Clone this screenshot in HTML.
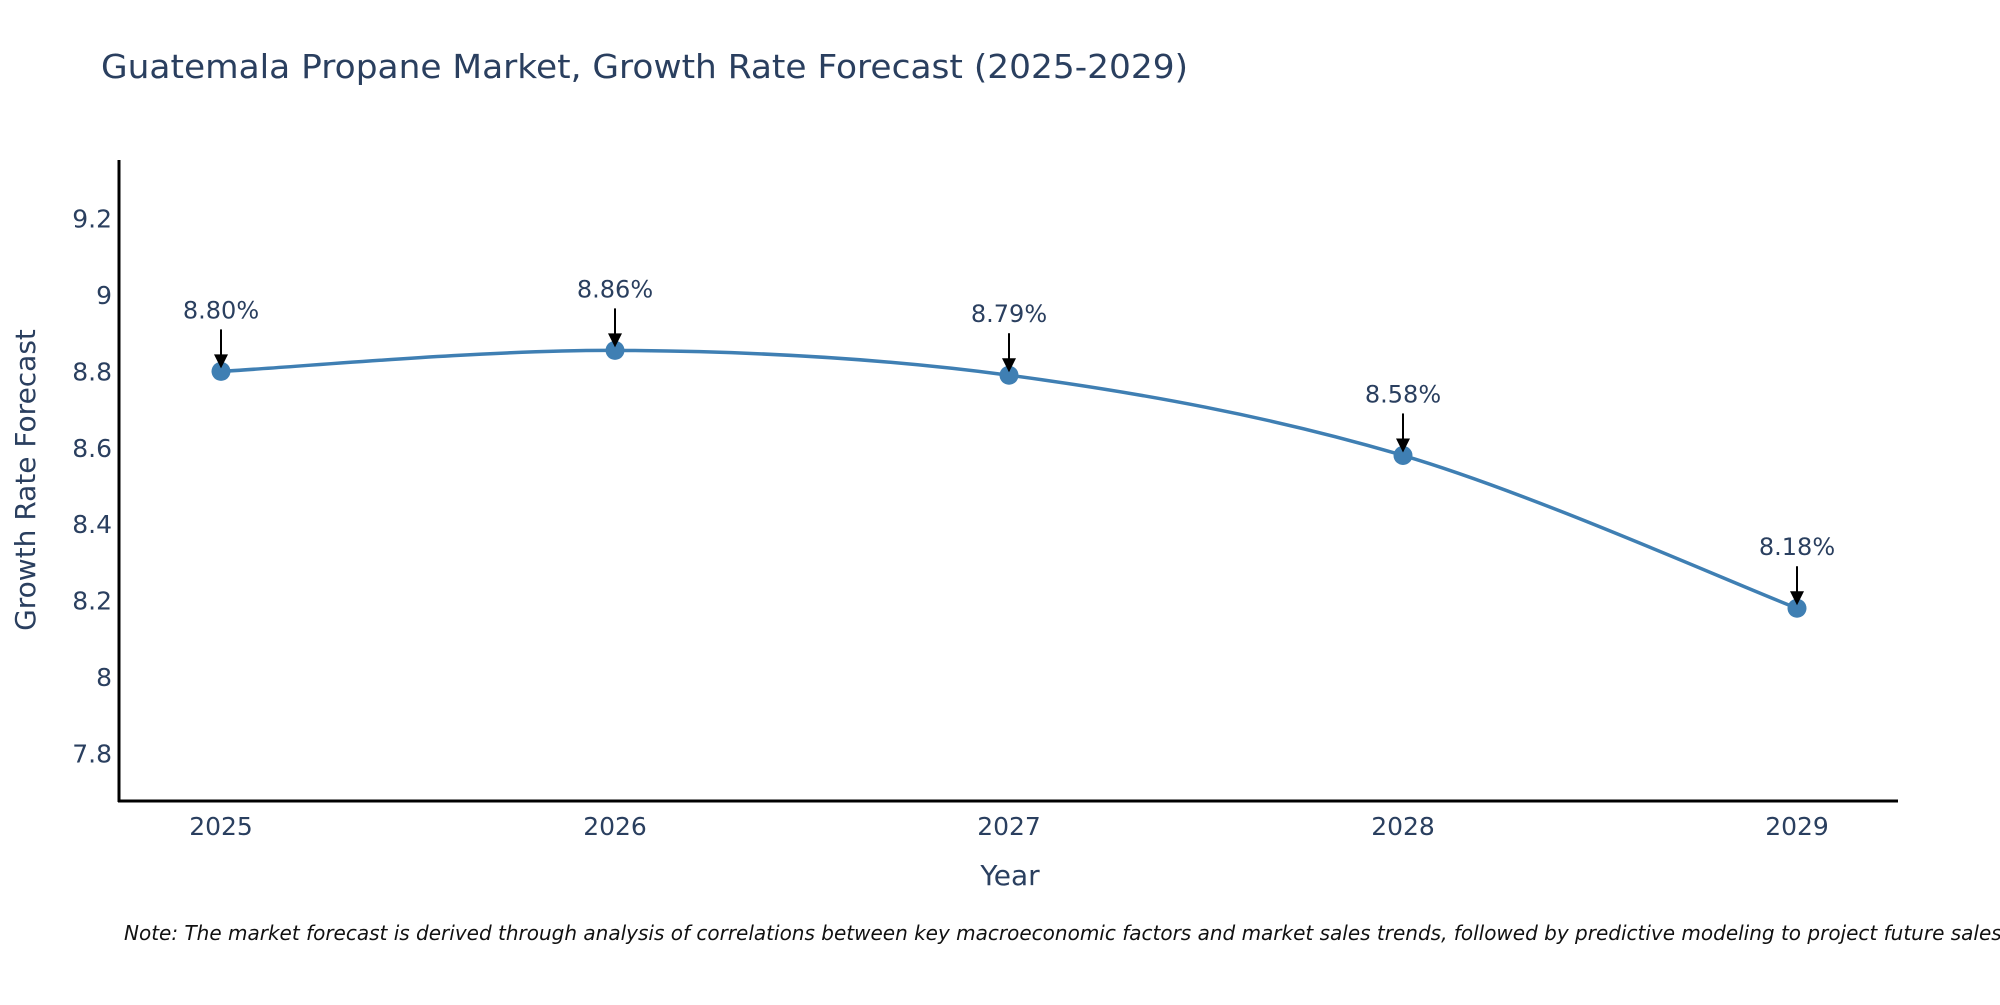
<!DOCTYPE html>
<html><head><meta charset="utf-8"><style>
body{margin:0;background:#fff;}
svg text{font-family:"DejaVu Sans","Liberation Sans",sans-serif;fill:#2a3f5f;}
</style></head><body>
<svg id="chart" width="2000" height="1000" viewBox="0 0 2000 1000" xmlns="http://www.w3.org/2000/svg">
<rect width="2000" height="1000" fill="#fff"/>
<text x="101" y="78" font-size="33" textLength="1087" lengthAdjust="spacingAndGlyphs">Guatemala Propane Market, Growth Rate Forecast (2025-2029)</text>
<g id="yticks"></g><g id="xticks"></g>
<line x1="119" y1="160" x2="119" y2="802" stroke="#000" stroke-width="3"/>
<line x1="118" y1="801" x2="1898" y2="801" stroke="#000" stroke-width="3"/>
<path id="line" fill="none" stroke="#3f7fb3" stroke-width="3.5"/>
<g id="marks"></g>
<text x="1010" y="885" font-size="28" text-anchor="middle">Year</text>
<text transform="translate(35,480) rotate(-90)" font-size="28" text-anchor="middle">Growth Rate Forecast</text>
<text x="124" y="940" font-size="20" font-style="italic" style="fill:#111">Note: The market forecast is derived through analysis of correlations between key macroeconomic factors and market sales trends, followed by predictive modeling to project future sales.</text>
</svg>
<script>
const years = [2025, 2026, 2027, 2028, 2029];
const values = [8.80, 8.855, 8.79, 8.58, 8.18];
const labels = ["8.80%", "8.86%", "8.79%", "8.58%", "8.18%"];
const yTicks = [7.8, 8, 8.2, 8.4, 8.6, 8.8, 9, 9.2];
const yTickLabels = ["7.8", "8", "8.2", "8.4", "8.6", "8.8", "9", "9.2"];
const NS = "http://www.w3.org/2000/svg";
function xs(v){return 221 + (v - 2025) * 394;}
function ys(v){return 677 - (v - 8) * 382;}
function mk(tag, attrs){const e=document.createElementNS(NS,tag);for(const k in attrs)e.setAttribute(k,attrs[k]);return e;}
const yt=document.getElementById('yticks');
yTicks.forEach((t,i)=>{
  const e=mk('text',{x:112,y:ys(t)+9,'font-size':25,'text-anchor':'end'});
  
  
  e.textContent=yTickLabels[i];yt.appendChild(e);
});
const xt=document.getElementById('xticks');
years.forEach(y=>{
  const e=mk('text',{x:xs(y),y:835,'font-size':25,'text-anchor':'middle'});
  
  
  e.textContent=y;xt.appendChild(e);
});
const P=years.map((y,i)=>[xs(y),ys(values[i])]);
let d="M"+P[0][0]+","+P[0][1];
for(let i=0;i<P.length-1;i++){
  const p0=P[Math.max(0,i-1)],p1=P[i],p2=P[i+1],p3=P[Math.min(P.length-1,i+2)];
  const c1=[p1[0]+(p2[0]-p0[0])/6,p1[1]+(p2[1]-p0[1])/6];
  const c2=[p2[0]-(p3[0]-p1[0])/6,p2[1]-(p3[1]-p1[1])/6];
  d+=` C${c1[0]},${c1[1]} ${c2[0]},${c2[1]} ${p2[0]},${p2[1]}`;
}
document.getElementById('line').setAttribute('d',d);
const mg=document.getElementById('marks');
P.forEach((p,i)=>{
  const c=mk('circle',{cx:p[0],cy:p[1],r:9.5,fill:'#3f7fb3'});
  
  
  mg.appendChild(c);
  const l=mk('line',{x1:p[0],y1:p[1]-42,x2:p[0],y2:p[1]-14,stroke:'#000','stroke-width':2});
  
  
  mg.appendChild(l);
  const h=mk('polygon',{points:`${p[0]-7},${p[1]-17} ${p[0]+7},${p[1]-17} ${p[0]},${p[1]-3}`,fill:'#000'});
  
  
  mg.appendChild(h);
  const t=mk('text',{x:p[0],y:p[1]-53,'font-size':24,'text-anchor':'middle'});
  
  
  t.textContent=labels[i];mg.appendChild(t);
});
</script>
</body></html>
